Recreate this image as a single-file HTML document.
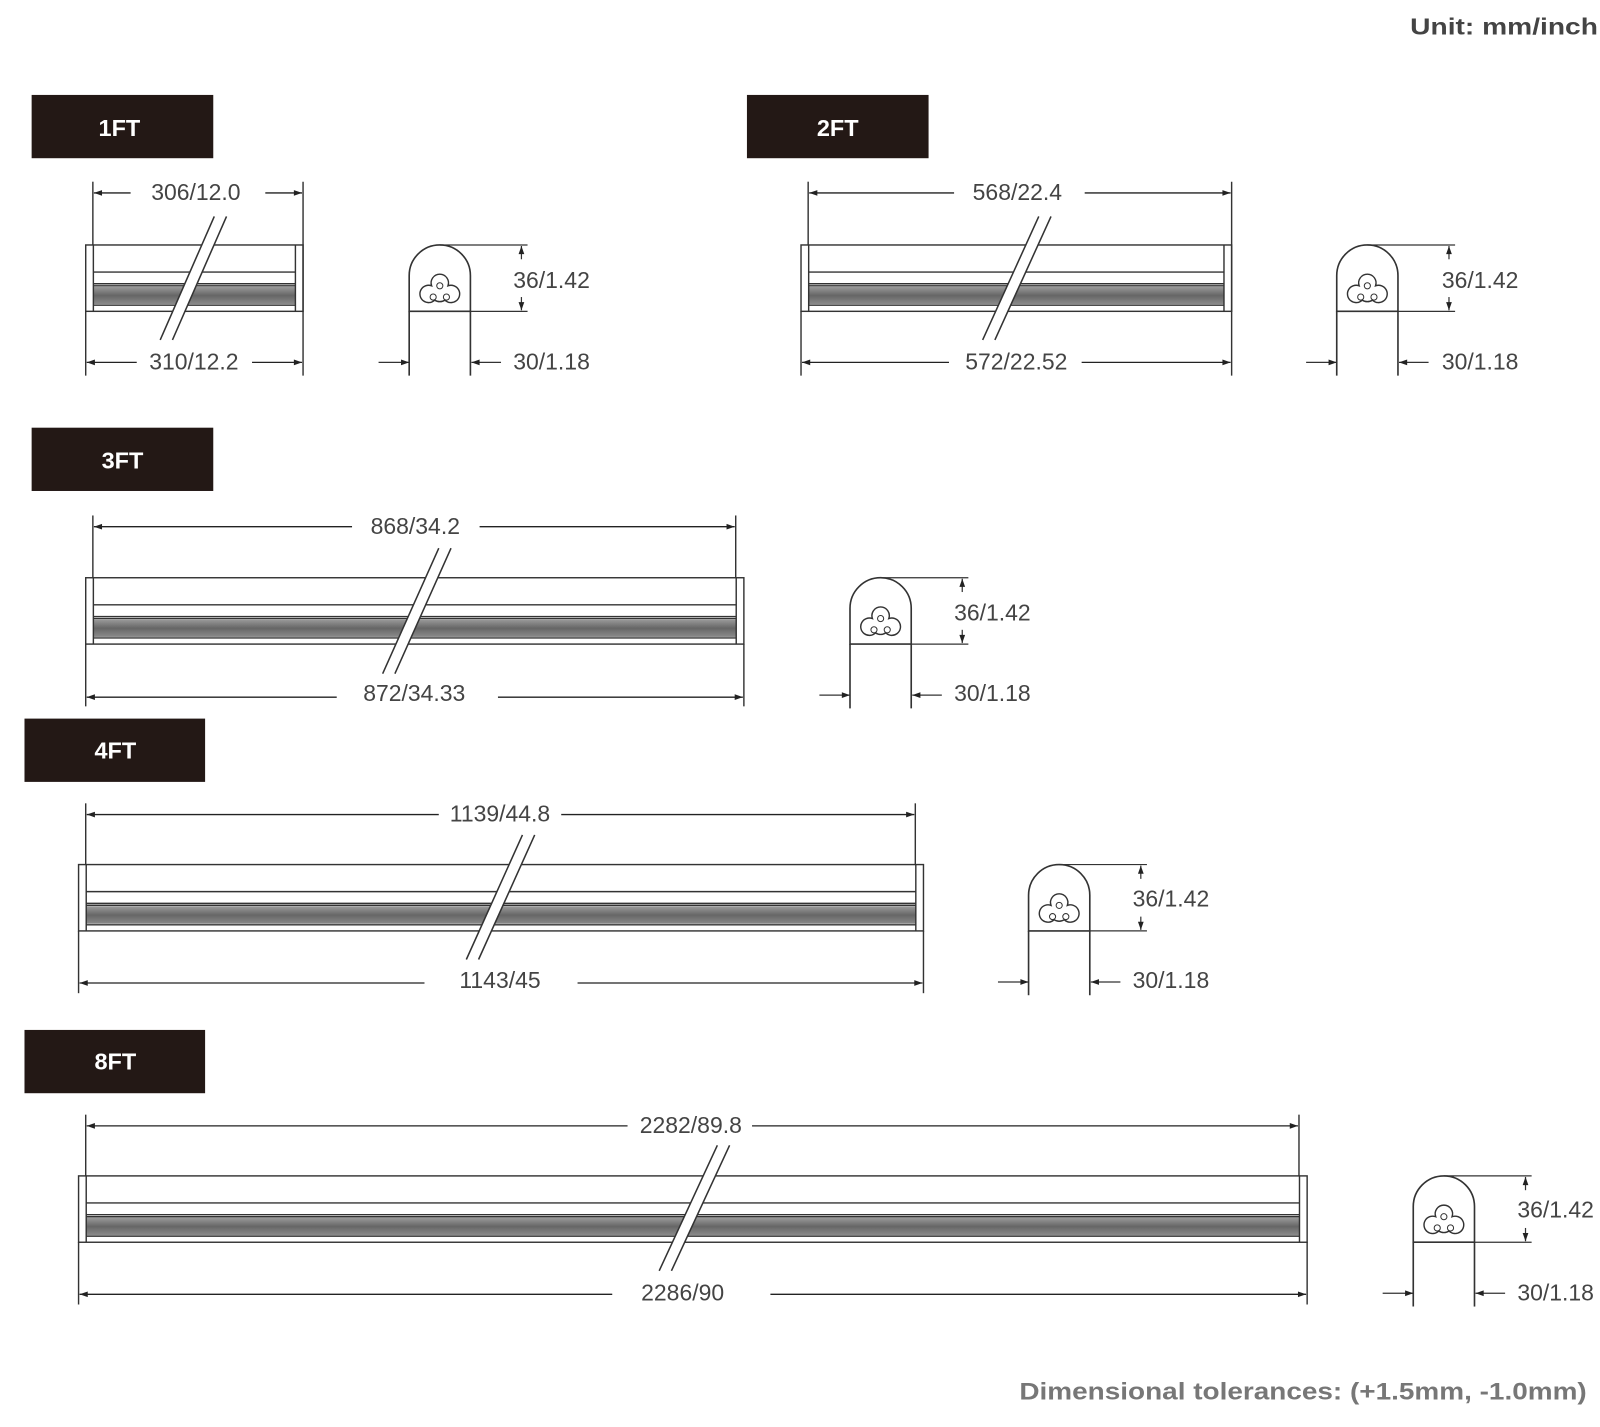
<!DOCTYPE html>
<html><head><meta charset="utf-8"><style>
html,body{margin:0;padding:0;background:#fff;}
svg{display:block;}
text{font-family:"Liberation Sans",sans-serif;}
</style></head><body>
<svg width="1600" height="1427" viewBox="0 0 1568 1398" preserveAspectRatio="none" xmlns="http://www.w3.org/2000/svg">
<defs>
<marker id="ar" viewBox="0 0 10 10" refX="10" refY="5" markerWidth="12" markerHeight="8" markerUnits="userSpaceOnUse" orient="auto-start-reverse"><path d="M0,1.5 L10,5 L0,8.5 Z" fill="#222"/></marker>
<linearGradient id="dk" x1="0" y1="0" x2="0" y2="1"><stop offset="0" stop-color="#9a9a9a"/><stop offset="0.5" stop-color="#666"/><stop offset="1" stop-color="#8a8a8a"/></linearGradient>
<g id="prof" fill="none" stroke="#333" stroke-width="1.6">
  <path d="M0,65 V30 A30,30 0 0 1 60,30 V65 Z" fill="#fff"/>
  <line x1="0" y1="65" x2="0" y2="128"/><line x1="60" y1="65" x2="60" y2="128"/>
  <path d="M22,40 a8.5,8.5 0 1 1 16,0 a8.5,8.5 0 1 1 -3,14 a9,9 0 0 1 -10,0 a8.5,8.5 0 1 1 -3,-14 Z" stroke-width="1.4"/>
  <circle cx="30" cy="40" r="3" stroke-width="1"/><circle cx="23.5" cy="51" r="3" stroke-width="1"/><circle cx="36.5" cy="51" r="3" stroke-width="1"/>
  <line x1="30" y1="0" x2="116" y2="0" stroke-width="1.2"/><line x1="60" y1="65" x2="116" y2="65" stroke-width="1.2"/>
  <line x1="110" y1="14" x2="110" y2="1" marker-end="url(#ar)" stroke-width="1.2"/>
  <line x1="110" y1="51" x2="110" y2="64" marker-end="url(#ar)" stroke-width="1.2"/>
  <line x1="-30" y1="115" x2="0" y2="115" marker-end="url(#ar)" stroke-width="1.2"/>
  <line x1="90" y1="115" x2="61" y2="115" marker-end="url(#ar)" stroke-width="1.2"/>
</g>
</defs>

<text x="1566" y="34" text-anchor="end" font-size="23" font-weight="bold" fill="#444" textLength="184" lengthAdjust="spacingAndGlyphs">Unit: mm/inch</text>
<text x="1555" y="1371" text-anchor="end" font-size="24" font-weight="bold" fill="#777" textLength="556" lengthAdjust="spacingAndGlyphs">Dimensional tolerances: (+1.5mm, -1.0mm)</text>

<g fill="#231815">
<rect x="31" y="93" width="178" height="62"/><rect x="732" y="93" width="178" height="62"/>
<rect x="31" y="419" width="178" height="62"/><rect x="24" y="704" width="177" height="62"/>
<rect x="24" y="1009" width="177" height="62"/>
</g>
<g fill="#fff" font-size="23" font-weight="bold" text-anchor="middle">
<text x="117" y="133">1FT</text><text x="821" y="133">2FT</text><text x="120" y="459">3FT</text>
<text x="113" y="743">4FT</text><text x="113" y="1048">8FT</text>
</g>

<g stroke="#333" stroke-width="1.4" fill="none">
<g transform="translate(84,240)">
<rect x="0" y="0" width="213" height="65" fill="#fff"/>
<rect x="7.5" y="41" width="198" height="17" fill="url(#dk)" stroke="none"/>
<line x1="7.5" y1="26.5" x2="205.5" y2="26.5"/><line x1="7.5" y1="38" x2="205.5" y2="38"/><line x1="7.5" y1="40" x2="205.5" y2="40"/><line x1="7.5" y1="59" x2="205.5" y2="59"/>
<line x1="7.5" y1="0" x2="7.5" y2="65"/><line x1="205.5" y1="0" x2="205.5" y2="65"/>
</g>
<g transform="translate(785,240)">
<rect x="0" y="0" width="422" height="65" fill="#fff"/>
<rect x="7.5" y="41" width="407" height="17" fill="url(#dk)" stroke="none"/>
<line x1="7.5" y1="26.5" x2="414.5" y2="26.5"/><line x1="7.5" y1="38" x2="414.5" y2="38"/><line x1="7.5" y1="40" x2="414.5" y2="40"/><line x1="7.5" y1="59" x2="414.5" y2="59"/>
<line x1="7.5" y1="0" x2="7.5" y2="65"/><line x1="414.5" y1="0" x2="414.5" y2="65"/>
</g>
<g transform="translate(84,566)">
<rect x="0" y="0" width="645" height="65" fill="#fff"/>
<rect x="7.5" y="41" width="630" height="17" fill="url(#dk)" stroke="none"/>
<line x1="7.5" y1="26.5" x2="637.5" y2="26.5"/><line x1="7.5" y1="38" x2="637.5" y2="38"/><line x1="7.5" y1="40" x2="637.5" y2="40"/><line x1="7.5" y1="59" x2="637.5" y2="59"/>
<line x1="7.5" y1="0" x2="7.5" y2="65"/><line x1="637.5" y1="0" x2="637.5" y2="65"/>
</g>
<g transform="translate(77,847)">
<rect x="0" y="0" width="828" height="65" fill="#fff"/>
<rect x="7.5" y="41" width="813" height="17" fill="url(#dk)" stroke="none"/>
<line x1="7.5" y1="26.5" x2="820.5" y2="26.5"/><line x1="7.5" y1="38" x2="820.5" y2="38"/><line x1="7.5" y1="40" x2="820.5" y2="40"/><line x1="7.5" y1="59" x2="820.5" y2="59"/>
<line x1="7.5" y1="0" x2="7.5" y2="65"/><line x1="820.5" y1="0" x2="820.5" y2="65"/>
</g>
<g transform="translate(77,1152)">
<rect x="0" y="0" width="1204" height="65" fill="#fff"/>
<rect x="7.5" y="41" width="1189" height="17" fill="url(#dk)" stroke="none"/>
<line x1="7.5" y1="26.5" x2="1196.5" y2="26.5"/><line x1="7.5" y1="38" x2="1196.5" y2="38"/><line x1="7.5" y1="40" x2="1196.5" y2="40"/><line x1="7.5" y1="59" x2="1196.5" y2="59"/>
<line x1="7.5" y1="0" x2="7.5" y2="65"/><line x1="1196.5" y1="0" x2="1196.5" y2="65"/>
</g>

<line x1="91" y1="178" x2="91" y2="240"/><line x1="297" y1="178" x2="297" y2="368"/><line x1="84" y1="305" x2="84" y2="368"/>
<line x1="792" y1="178" x2="792" y2="240"/><line x1="1207" y1="178" x2="1207" y2="368"/><line x1="785" y1="305" x2="785" y2="368"/>
<line x1="91" y1="505" x2="91" y2="566"/><line x1="721" y1="505" x2="721" y2="566"/><line x1="84" y1="631" x2="84" y2="692"/><line x1="729" y1="631" x2="729" y2="692"/>
<line x1="84" y1="787" x2="84" y2="847"/><line x1="897" y1="787" x2="897" y2="847"/><line x1="77" y1="912" x2="77" y2="973"/><line x1="905" y1="912" x2="905" y2="973"/>
<line x1="84" y1="1092" x2="84" y2="1152"/><line x1="1273" y1="1092" x2="1273" y2="1152"/><line x1="77" y1="1217" x2="77" y2="1278"/><line x1="1281" y1="1217" x2="1281" y2="1278"/>
</g>

<g stroke="#222" stroke-width="1.3" fill="none">
<line x1="128" y1="189" x2="92" y2="189" marker-end="url(#ar)"/><line x1="260" y1="189" x2="296" y2="189" marker-end="url(#ar)"/>
<line x1="134" y1="355" x2="85" y2="355" marker-end="url(#ar)"/><line x1="247" y1="355" x2="296" y2="355" marker-end="url(#ar)"/>
<line x1="935" y1="189" x2="793" y2="189" marker-end="url(#ar)"/><line x1="1063" y1="189" x2="1206" y2="189" marker-end="url(#ar)"/>
<line x1="930" y1="355" x2="786" y2="355" marker-end="url(#ar)"/><line x1="1060" y1="355" x2="1206" y2="355" marker-end="url(#ar)"/>
<line x1="345" y1="516" x2="92" y2="516" marker-end="url(#ar)"/><line x1="470" y1="516" x2="720" y2="516" marker-end="url(#ar)"/>
<line x1="330" y1="683" x2="85" y2="683" marker-end="url(#ar)"/><line x1="488" y1="683" x2="728" y2="683" marker-end="url(#ar)"/>
<line x1="430" y1="798" x2="85" y2="798" marker-end="url(#ar)"/><line x1="550" y1="798" x2="896" y2="798" marker-end="url(#ar)"/>
<line x1="416" y1="963" x2="78" y2="963" marker-end="url(#ar)"/><line x1="566" y1="963" x2="904" y2="963" marker-end="url(#ar)"/>
<line x1="615" y1="1103" x2="85" y2="1103" marker-end="url(#ar)"/><line x1="737" y1="1103" x2="1272" y2="1103" marker-end="url(#ar)"/>
<line x1="600" y1="1268" x2="78" y2="1268" marker-end="url(#ar)"/><line x1="755" y1="1268" x2="1280" y2="1268" marker-end="url(#ar)"/>
</g>

<!-- slashes: white band + two open lines -->
<g fill="#fff" stroke="none">
<polygon points="210,212 222,212 169,333 157,333"/>
<polygon points="1018,212 1030,212 975,333 963,333"/>
<polygon points="430,537 442,537 387,660 375,660"/>
<polygon points="512,818 524,818 469,940 457,940"/>
<polygon points="703,1122 715,1122 658,1245 646,1245"/>
</g>
<g stroke="#333" stroke-width="1.5">
<line x1="210" y1="212" x2="157" y2="333"/><line x1="222" y1="212" x2="169" y2="333"/>
<line x1="1018" y1="212" x2="963" y2="333"/><line x1="1030" y1="212" x2="975" y2="333"/>
<line x1="430" y1="537" x2="375" y2="660"/><line x1="442" y1="537" x2="387" y2="660"/>
<line x1="512" y1="818" x2="457" y2="940"/><line x1="524" y1="818" x2="469" y2="940"/>
<line x1="703" y1="1122" x2="646" y2="1245"/><line x1="715" y1="1122" x2="658" y2="1245"/>
</g>

<use href="#prof" x="401" y="240"/>
<use href="#prof" x="1310" y="240"/>
<use href="#prof" x="833" y="566"/>
<use href="#prof" x="1008" y="847"/>
<use href="#prof" x="1385" y="1152"/>

<g font-size="22.5" fill="#444">
<g text-anchor="middle">
<text x="192" y="196">306/12.0</text><text x="190" y="362">310/12.2</text>
<text x="997" y="196">568/22.4</text><text x="996" y="362">572/22.52</text>
<text x="407" y="523">868/34.2</text><text x="406" y="687">872/34.33</text>
<text x="490" y="805">1139/44.8</text><text x="490" y="968">1143/45</text>
<text x="677" y="1110">2282/89.8</text><text x="669" y="1274">2286/90</text>
</g>
<text x="503" y="282">36/1.42</text><text x="503" y="362">30/1.18</text>
<text x="1413" y="282">36/1.42</text><text x="1413" y="362">30/1.18</text>
<text x="935" y="608">36/1.42</text><text x="935" y="687">30/1.18</text>
<text x="1110" y="888">36/1.42</text><text x="1110" y="968">30/1.18</text>
<text x="1487" y="1193">36/1.42</text><text x="1487" y="1274">30/1.18</text>
</g>
</svg>
</body></html>
